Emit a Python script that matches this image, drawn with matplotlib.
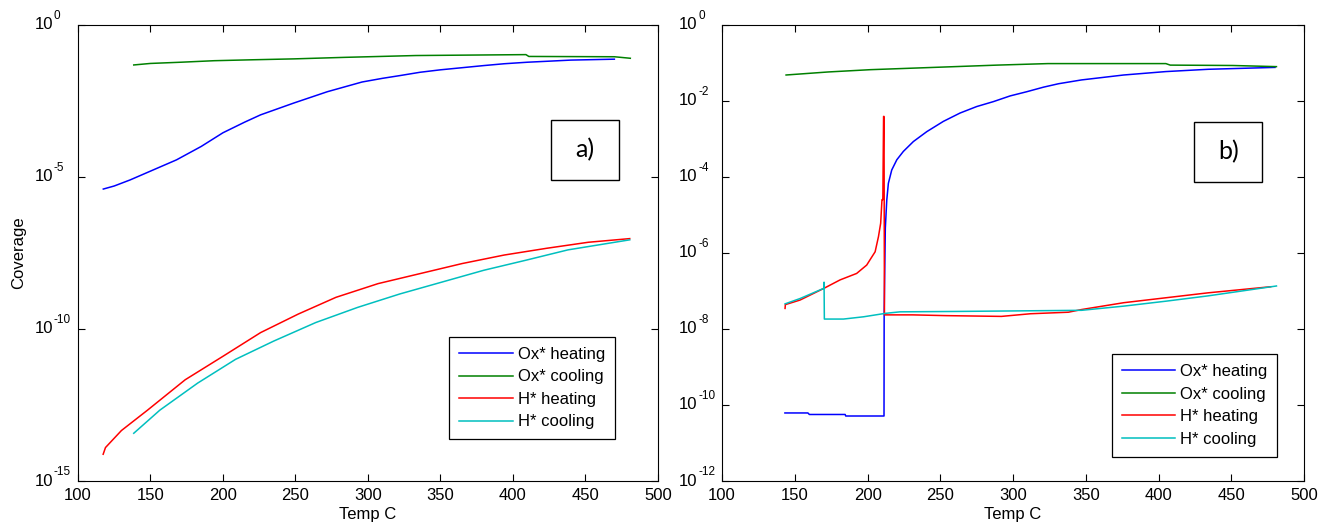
import matplotlib
matplotlib.use('Agg')
import matplotlib.pyplot as plt
from matplotlib.transforms import offset_copy
import numpy as np

# Panel a) - temperature (C) and log10(coverage)
a_ox_heat_T = [117.5, 125, 136, 152, 168, 185, 200, 215, 226, 249, 272, 296, 310, 322, 336, 350, 365, 380, 394, 410, 423, 440, 470]
a_ox_heat_y = [-5.40, -5.30, -5.10, -4.77, -4.44, -4.0, -3.55, -3.2, -2.96, -2.57, -2.2, -1.88, -1.76, -1.67, -1.56, -1.48, -1.41, -1.34, -1.28, -1.23, -1.2, -1.16, -1.13]

a_ox_cool_T = [138.5, 150, 171, 194, 220, 249, 284, 333, 409, 411, 470, 481]
a_ox_cool_y = [-1.32, -1.27, -1.23, -1.18, -1.15, -1.12, -1.07, -1.01, -0.98, -1.04, -1.05, -1.1]

a_h_heat_T = [117.4, 119, 130, 148, 174, 200, 226, 252, 278, 307, 336, 365, 394, 423, 452, 480.6]
a_h_heat_y = [-14.12, -13.9, -13.34, -12.67, -11.67, -10.9, -10.12, -9.51, -8.96, -8.51, -8.18, -7.85, -7.57, -7.35, -7.15, -7.03]

a_h_cool_T = [138.5, 156.5, 182.6, 208.7, 235, 264, 293, 322, 351, 380, 409, 438, 480.6]
a_h_cool_y = [-13.43, -12.67, -11.78, -11.0, -10.4, -9.79, -9.29, -8.85, -8.46, -8.07, -7.74, -7.4, -7.07]

# Panel b)
b_ox_heat_T = [143.2, 159, 160, 184.6, 185, 211.3, 211.4, 212.2, 213.2, 214.3, 216.6, 220.1, 224.6, 231.5, 240.7, 252.1, 263.6, 275, 286.5, 298, 309.4, 320.9, 331.2, 347, 376, 405, 434, 480]
b_ox_heat_y = [-10.21, -10.21, -10.25, -10.25, -10.29, -10.29, -7.58, -5.35, -4.61, -4.17, -3.82, -3.55, -3.33, -3.07, -2.81, -2.54, -2.32, -2.15, -2.02, -1.87, -1.76, -1.64, -1.55, -1.45, -1.32, -1.23, -1.17, -1.12]

b_ox_cool_T = [144, 173, 202, 231, 260, 289, 324, 405, 408, 451, 481]
b_ox_cool_y = [-1.32, -1.24, -1.18, -1.14, -1.10, -1.06, -1.02, -1.02, -1.06, -1.07, -1.10]

b_h_heat_T = [143.3, 143.5, 153.6, 170.1, 181.1, 192.5, 199.4, 201.7, 205.2, 207.5, 209.0, 209.9, 210.5, 211.0, 211.3, 211.6, 231, 254, 292, 312, 338, 347, 376, 405, 434, 477]
b_h_heat_y = [-7.46, -7.36, -7.24, -6.93, -6.71, -6.54, -6.32, -6.18, -5.97, -5.57, -5.22, -4.6, -4.6, -2.41, -2.41, -7.63, -7.63, -7.65, -7.67, -7.6, -7.56, -7.49, -7.31, -7.18, -7.05, -6.89]

b_h_cool_T = [143.3, 153.6, 170.0, 170.1, 170.3, 183.4, 197.3, 212.2, 222.3, 260, 347, 376, 405, 434, 481]
b_h_cool_y = [-7.34, -7.20, -6.93, -6.77, -7.74, -7.74, -7.68, -7.59, -7.55, -7.54, -7.51, -7.4, -7.27, -7.13, -6.87]

labels = ['Ox* heating', 'Ox* cooling', 'H* heating', 'H* cooling']
colors = ['#0000ff', '#008000', '#ff0000', '#00bfbf']
a_ticks = [-15, -10, -5, 0]
b_ticks = [-12, -10, -8, -6, -4, -2, 0]

plt.rcParams['font.family'] = ['Liberation Sans', 'DejaVu Sans']

fig = plt.figure(figsize=(13.21, 5.28), dpi=100)
ax1 = fig.add_axes([0.059, 0.089, 0.439, 0.864])
ax2 = fig.add_axes([0.5466, 0.089, 0.4406, 0.864])

panel_a = [(a_ox_heat_T, a_ox_heat_y), (a_ox_cool_T, a_ox_cool_y),
           (a_h_heat_T, a_h_heat_y), (a_h_cool_T, a_h_cool_y)]
panel_b = [(b_ox_heat_T, b_ox_heat_y), (b_ox_cool_T, b_ox_cool_y),
           (b_h_heat_T, b_h_heat_y), (b_h_cool_T, b_h_cool_y)]

for ax, data, ticks in [(ax1, panel_a, a_ticks), (ax2, panel_b, b_ticks)]:
    for (t, y), lab, c in zip(data, labels, colors):
        ax.plot(t, 10 ** np.array(y), color=c, lw=1.1, label=lab)
    ax.set_yscale('log')
    ax.set_xlim(100, 500)
    ax.set_ylim(10.0 ** ticks[0], 10.0 ** ticks[-1])
    ax.set_xticks(np.arange(100, 501, 50))
    ax.set_yticks([10.0 ** k for k in ticks])
    ax.set_yticklabels([])
    ax.minorticks_off()
    ax.tick_params(direction='in', top=True, right=True, length=5, labelsize=12, pad=5)
    ax.set_xlabel('Temp C', fontsize=12, labelpad=3)
    for s in ax.spines.values():
        s.set_linewidth(0.8)
    # MATLAB-style labels: base "10" right-aligned, exponent hanging to the right
    ytr = ax.get_yaxis_transform()
    for k in ticks:
        ax.text(0, 10.0 ** k, '10', fontsize=12, ha='right', va='center',
                transform=offset_copy(ytr, fig=fig, x=-25, y=0, units='dots'))
        ax.text(0, 10.0 ** k, str(k), fontsize=8.5, ha='left', va='bottom',
                transform=offset_copy(ytr, fig=fig, x=-24, y=3, units='dots'))

ax1.set_ylabel('Coverage', fontsize=12, labelpad=32)

leg_kw = dict(fancybox=False, edgecolor='black', framealpha=1, fontsize=12,
              handlelength=3.2, handletextpad=0.3, borderpad=0.6, labelspacing=0.45,
              loc='upper right', borderaxespad=0)
l1 = ax1.legend(bbox_to_anchor=(0.926, 0.316), **leg_kw)
l2 = ax2.legend(bbox_to_anchor=(0.954, 0.278), **leg_kw)
for l in (l1, l2):
    l.get_frame().set_linewidth(0.9)

for ax, (x0, y0), txt in [(ax1, (0.816, 0.660), 'a)'), (ax2, (0.811, 0.656), 'b)')]:
    ax.add_patch(plt.Rectangle((x0, y0), 0.117, 0.132, transform=ax.transAxes,
                               fill=False, edgecolor='black', lw=1.0))
    ax.text(x0 + 0.0585, y0 + 0.066, txt, transform=ax.transAxes, ha='center',
            va='center', fontsize=18, family=['Lato', 'DejaVu Sans'])

fig.savefig('out.png', dpi=100)
